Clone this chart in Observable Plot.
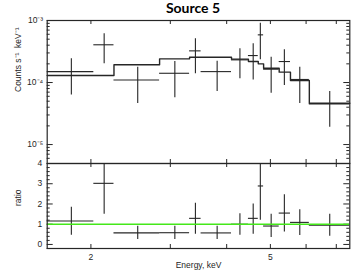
<!DOCTYPE html>
<html><head><meta charset="utf-8">
<script src="https://cdn.jsdelivr.net/npm/d3@7"></script>
<script src="https://cdn.jsdelivr.net/npm/@observablehq/plot@0.6"></script>
<style>
body{margin:0;background:#fff;}
#wrap{position:relative;width:363px;height:275px;overflow:hidden;background:#fff;}
#title{position:absolute;left:143px;width:100px;top:-1px;line-height:15px;text-align:center;font:bold 14px Lato,"Open Sans",sans-serif;color:#000;z-index:3;}
#top,#bot{position:absolute;left:0;}
#top{top:0;z-index:1} #bot{top:153px;z-index:2}
</style></head><body>
<div id="wrap"><div id="title">Source 5</div><div id="top"></div><div id="bot"></div></div>
<script>
// channel bins (keV)
const binLo = [1.6, 2.03, 2.25, 2.84, 3.31, 3.51, 4.10, 4.47, 4.70, 4.83, 5.23, 5.54, 6.10];
const binHi = [2.03, 2.25, 2.84, 3.31, 3.51, 4.10, 4.47, 4.70, 4.83, 5.23, 5.54, 6.10, 7.5];
const energy = [1.81, 2.14, 2.54, 3.07, 3.41, 3.81, 4.28, 4.58, 4.75, 5.02, 5.37, 5.81, 6.77];
// counts s^-1 keV^-1
const counts   = [1.50e-4, 4.06e-4, 1.10e-4, 1.41e-4, 3.24e-4, 1.50e-4, 2.32e-4, 2.72e-4, 5.87e-4, 1.64e-4, 2.18e-4, 1.12e-4, 4.53e-5];
const countsLo = [6.3e-5, 2.0e-4, 4.6e-5, 5.7e-5, 1.38e-4, 7.2e-5, 1.15e-4, 1.1e-4, 2.32e-4, 6.7e-5, 8.95e-5, 4.6e-5, 1.9e-5];
const countsHi = [2.41e-4, 6.1e-4, 1.77e-4, 2.18e-4, 5.06e-4, 2.21e-4, 3.5e-4, 4.2e-4, 9.06e-4, 2.56e-4, 3.37e-4, 1.77e-4, 7.2e-5];
const model    = [1.30e-4, 1.30e-4, 1.93e-4, 2.41e-4, 2.56e-4, 2.56e-4, 2.38e-4, 2.18e-4, 2.0e-4, 1.70e-4, 1.47e-4, 1.08e-4, 4.64e-5];
// data / model ratio
const ratio   = [1.16, 3.02, 0.57, 0.58, 1.29, 0.57, 1.0, 1.29, 2.89, 0.91, 1.55, 1.09, 0.95];
const ratioLo = [0.45, 1.49, 0.25, 0.25, 0.5, 0.25, 0.46, 0.5, 1.19, 0.34, 0.62, 0.44, 0.41];
const ratioHi = [1.84, 4.7, 0.9, 0.9, 2.04, 0.9, 1.52, 2.0, 4.5, 1.49, 2.45, 1.72, 1.49];
// ticks
const xTicks = [2, 3, 4, 5, 6, 7];
const xLabels = [2, 5];
const yMajor = [1e-5, 1e-4, 1e-3];
const yMajorText = ["10⁻⁵", "10⁻⁴", "10⁻³"];
const yMinor = [6e-6,7e-6,8e-6,9e-6,2e-5,3e-5,4e-5,5e-5,6e-5,7e-5,8e-5,9e-5,2e-4,3e-4,4e-4,5e-4,6e-4,7e-4,8e-4,9e-4];
const ratioTicks = [0, 1, 2, 3, 4];
const ratioMinor = [-0.2,0.2,0.4,0.6,0.8,1.2,1.4,1.6,1.8,2.2,2.4,2.6,2.8,3.2,3.4,3.6,3.8];

const rows = energy.map((e, i) => ({e, lo: binLo[i], hi: binHi[i], c: counts[i], clo: countsLo[i], chi: countsHi[i],
  m: model[i], r: ratio[i], rlo: ratioLo[i], rhi: ratioHi[i]}));
const modelPts = rows.flatMap(d => [{x: d.lo, y: d.m}, {x: d.hi, y: d.m}]);
const yLabelOf = d => yMajorText[yMajor.indexOf(d)];

const W = 363, mL = 46.7, mR = 13.7;
const pw = W - mL - mR;
const ink = "#262626";
const font = {fontFamily: "'Liberation Sans', Arial, sans-serif", fontSize: "8.5px", color: ink};

// upper panel
const topH = 170, topMT = 20, topMB = 7;
const ph1 = topH - topMT - topMB;
const upper = Plot.plot({
  width: W, height: topH, marginLeft: mL, marginRight: mR, marginTop: topMT, marginBottom: topMB,
  x: {type: "log", domain: [1.6, 7.5], axis: null},
  y: {type: "log", domain: [4.95e-6, 1e-3], axis: null},
  style: {...font, background: "white", overflow: "visible"},
  marks: [
    Plot.tickY(yMinor, {y: d => d, insetRight: pw - 3, stroke: ink}),
    Plot.tickY(yMinor, {y: d => d, insetLeft: pw - 3, stroke: ink}),
    Plot.tickY(yMajor, {y: d => d, insetRight: pw - 6, stroke: ink}),
    Plot.tickY(yMajor, {y: d => d, insetLeft: pw - 6, stroke: ink}),
    Plot.tickX(xTicks, {x: d => d, insetBottom: ph1 - 4, stroke: ink}),
    Plot.tickX(xTicks, {x: d => d, insetTop: ph1 - 4, stroke: ink}),
    Plot.axisY(yMajor, {anchor: "left", tickSize: 0, tickPadding: 4, tickFormat: yLabelOf, fontSize: 8.5}),
    Plot.line(modelPts, {x: "x", y: "y", stroke: ink, strokeWidth: 1.4}),
    Plot.ruleY(rows, {y: "c", x1: "lo", x2: "hi", stroke: ink, strokeWidth: 1.1}),
    Plot.ruleX(rows, {x: "e", y1: "clo", y2: "chi", stroke: ink, strokeWidth: 1.1, clip: true}),
    Plot.frame({stroke: ink, strokeWidth: 1.2}),
    Plot.text(["Counts s⁻¹  keV⁻¹"], {frameAnchor: "left", rotate: -90, dx: -29, fontSize: 8.5, fill: ink})
  ]
});
document.getElementById("top").appendChild(upper);

// lower panel
const botH = 122, botMT = 10, botMB = 27;
const ph2 = botH - botMT - botMB;
const lower = Plot.plot({
  width: W, height: botH, marginLeft: mL, marginRight: mR, marginTop: botMT, marginBottom: botMB,
  x: {type: "log", domain: [1.6, 7.5], axis: null},
  y: {domain: [-0.2, 4], axis: null},
  style: {...font, background: "transparent", overflow: "visible"},
  marks: [
    Plot.tickY(ratioMinor, {y: d => d, insetRight: pw - 3, stroke: ink}),
    Plot.tickY(ratioMinor, {y: d => d, insetLeft: pw - 3, stroke: ink}),
    Plot.tickY(ratioTicks, {y: d => d, insetRight: pw - 6, stroke: ink}),
    Plot.tickY(ratioTicks, {y: d => d, insetLeft: pw - 6, stroke: ink}),
    Plot.tickX(xTicks, {x: d => d, insetBottom: ph2 - 4, stroke: ink}),
    Plot.tickX(xTicks, {x: d => d, insetTop: ph2 - 4, stroke: ink}),
    Plot.axisY(ratioTicks, {anchor: "left", tickSize: 0, tickPadding: 5, fontSize: 8.5}),
    Plot.axisX(xLabels, {anchor: "bottom", tickSize: 0, tickPadding: 5, tickFormat: d => String(d), fontSize: 8.5, label: null}),
    Plot.ruleY(rows, {y: "r", x1: "lo", x2: "hi", stroke: ink, strokeWidth: 1.1}),
    Plot.ruleX(rows, {x: "e", y1: "rlo", y2: "rhi", stroke: ink, strokeWidth: 1.1, clip: true}),
    Plot.ruleY([1], {stroke: "#44e81a", strokeWidth: 1.6}),
    Plot.frame({stroke: ink, strokeWidth: 1.2}),
    Plot.text(["ratio"], {frameAnchor: "left", rotate: -90, dx: -29, fontSize: 8.5, fill: ink}),
    Plot.text(["Energy, keV"], {frameAnchor: "bottom", dy: 19, fontSize: 8.5, fill: ink})
  ]
});
document.getElementById("bot").appendChild(lower);
</script>
</body></html>
